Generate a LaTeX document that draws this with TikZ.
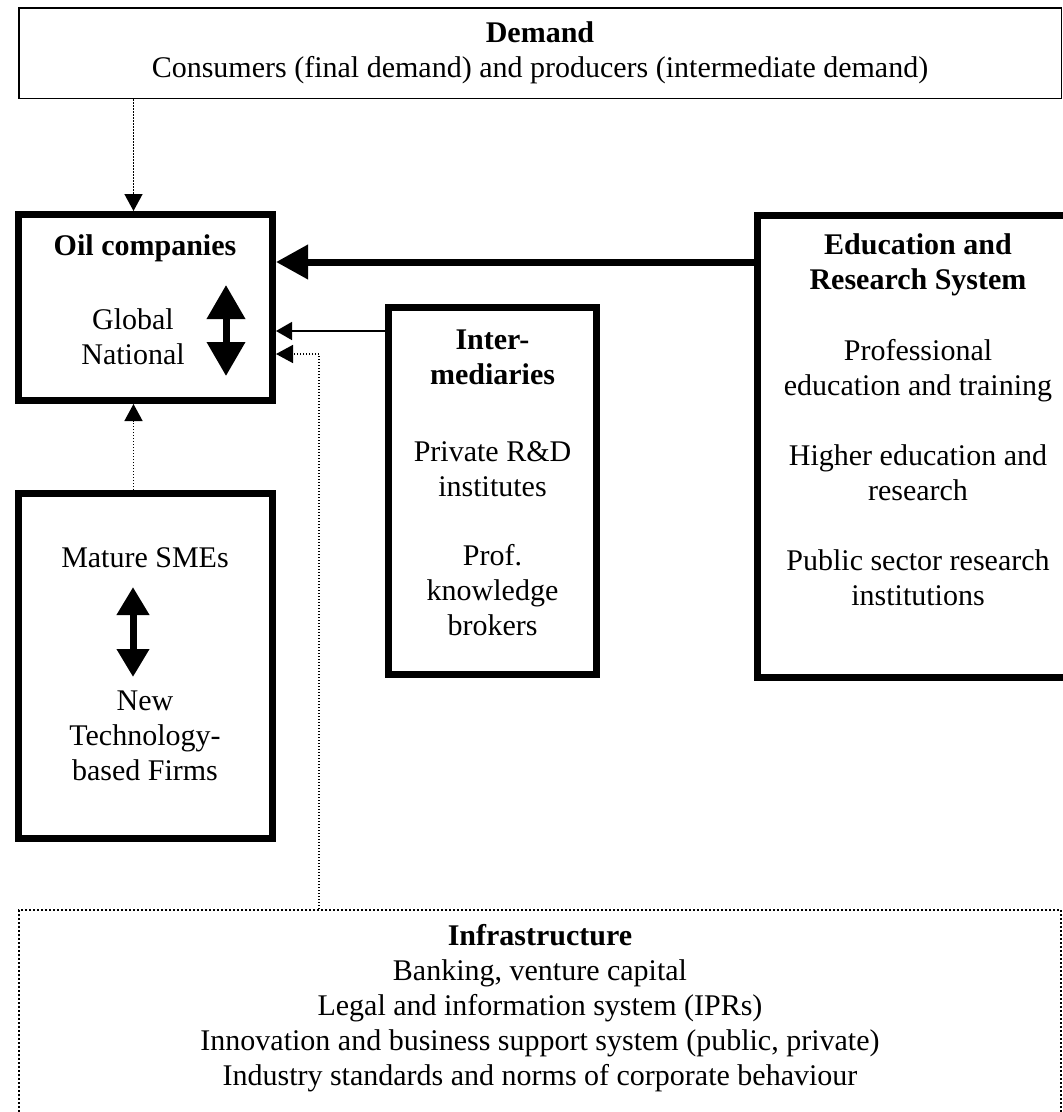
\documentclass[tikz,border=0pt]{standalone}
\usepackage{fontspec}
\setmainfont{Liberation Serif}
\usepackage{tikz}
\usetikzlibrary{arrows.meta}

\begin{document}
\begin{tikzpicture}[
  x=1pt, y=-1pt,
  every node/.style={align=center, inner sep=0pt, font=\fontsize{30}{35}\selectfont},
  thinbox/.style={draw, line width=1.5pt},
  thickbox/.style={draw, line width=7pt},
  dotbox/.style={draw, line width=2pt, dash pattern=on 2pt off 2pt},
  bigarrow/.style={line width=7pt, -{Triangle[length=32pt, width=33pt]}},
  smallarrow/.style={line width=1.5pt, -{Triangle[length=16pt, width=18pt]}},
  dotarrow/.style={line width=1.5pt, dash pattern=on 1.5pt off 1.5pt, -{Triangle[length=17pt, width=18pt]}},
  twoway/.style={line width=7pt, {Triangle[length=#1, width=#1+3pt]}-{Triangle[length=#1, width=#1+3pt]}}
]
\useasboundingbox (0,0) rectangle (1063,1112);
\clip (0,0) rectangle (1063,1112);

% boxes
\node[thinbox, minimum width=1042.5pt, minimum height=90.5pt] (demand) at (540,53)
  {\textbf{Demand}\\Consumers (final demand) and producers (intermediate demand)};
\node[thickbox, minimum width=254pt, minimum height=186pt] (oil) at (145.5,307.5) {};
\node[thickbox, minimum width=254pt, minimum height=345pt] (sme) at (145.5,666) {};
\node[thickbox, minimum width=208pt, minimum height=367pt] (inter) at (492.5,491) {};
\node[thickbox, minimum width=325pt, minimum height=462pt] (edu) at (919.5,446.5) {};
\node[dotbox, minimum width=1042pt, minimum height=260pt] (infra) at (540,1040) {};

% texts
\node (oilT) at (145,248) {\textbf{Oil companies}};
\node (oilL) at (133,337) {Global\\National};
\node (smeA) at (145,558) {Mature SMEs};
\node (smeB) at (145,736) {New\\Technology-\\based Firms};
\node (interT) at (492.5,357.5) {\textbf{Inter-}\\\textbf{mediaries}};
\node (interA) at (492.5,469.5) {Private R\&D\\institutes};
\node (interB) at (492.5,590) {Prof.\\knowledge\\brokers};
\node (eduT) at (918,265) {\textbf{Education and}\\\textbf{Research System}};
\node (eduA) at (918,371) {Professional\\education and training};
\node (eduB) at (918,472.5) {Higher education and\\research};
\node (eduC) at (918,577.5) {Public sector research\\institutions};
\node (infraT) at (540,1008.5) {\textbf{Infrastructure}\\Banking, venture capital\\Legal and information system (IPRs)\\
  Innovation and business support system (public, private)\\Industry standards and norms of corporate behaviour};

% two-way arrows inside boxes
\coordinate (gn) at (226,330.5);
\coordinate (mn) at (133,632);
\draw[twoway=34pt] ([yshift=45.5pt]gn) -- ([yshift=-45.5pt]gn);
\draw[twoway=28pt] ([yshift=45pt]mn) -- ([yshift=-45pt]mn);

% connectors
\coordinate (dmx) at ([xshift=-12pt]oil.north);
\coordinate (eduout) at ([yshift=-50pt]edu.north west);
\coordinate (interout) at ([yshift=-27pt]inter.north west);
\coordinate (infraup) at ([xshift=301pt]infra.north west);
\draw[dotarrow] (dmx |- demand.south) -- (dmx);
\draw[dotarrow] (dmx |- sme.north) -- (dmx |- oil.south);
\draw[bigarrow] (eduout) -- (eduout -| oil.east);
\draw[smallarrow] (interout) -- (interout -| oil.east);
\draw[dotarrow] (infraup) |- ([yshift=-46.5pt]oil.east);
\end{tikzpicture}
\end{document}
